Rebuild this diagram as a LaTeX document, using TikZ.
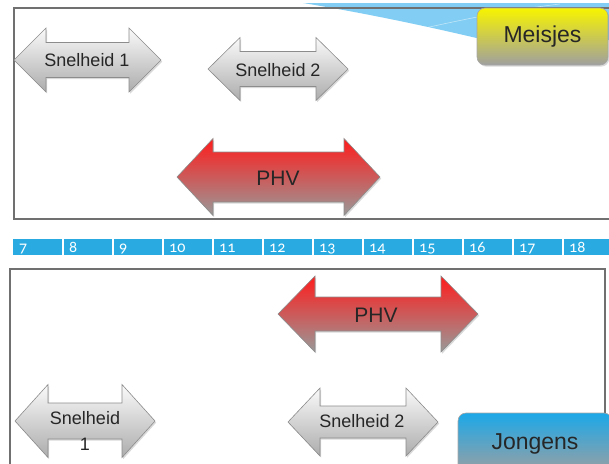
\documentclass[tikz,border=0pt]{standalone}
\usepackage{fontspec}
\setmainfont{Liberation Sans}
\newfontfamily\numfont[Numbers=OldStyle]{Carlito}
\usetikzlibrary{shadows}
\definecolor{barblue}{RGB}{41,171,226}
\definecolor{swooshblue}{RGB}{130,205,243}
\definecolor{frameline}{RGB}{112,112,112}
\definecolor{arrowline}{RGB}{140,140,140}
\definecolor{hotred}{RGB}{255,28,28}
\definecolor{boxyellow}{RGB}{248,244,0}
\definecolor{boxblue}{RGB}{28,168,232}
\newcommand{\dbarr}[7]{%
  \path[#7] (#1,#3) -- (#1+#4,#3-#5) -- (#1+#4,#3-#6) -- (#2-#4,#3-#6) -- (#2-#4,#3-#5)
    -- (#2,#3) -- (#2-#4,#3+#5) -- (#2-#4,#3+#6) -- (#1+#4,#3+#6) -- (#1+#4,#3+#5) -- cycle;}
\begin{document}
\begin{tikzpicture}[x=1pt,y=-1pt,
  frame/.style={draw=frameline, line width=1.1pt},
  shad/.style={drop shadow={shadow xshift=1.2pt, shadow yshift=-1.6pt, opacity=0.3}},
  grayarrow/.style={draw=arrowline, line width=0.6pt, top color=gray!4, bottom color=gray!65, shad},
  redarrow/.style={draw=arrowline, line width=0.6pt, top color=hotred, middle color=hotred!55!gray!90, bottom color=gray!80, shad},
  lbl/.style={font=\fontsize{18}{26}\selectfont, text=black!85, inner sep=0pt, align=center},
  phvlbl/.style={font=\fontsize{21}{24}\selectfont, text=black!85, inner sep=0pt},
  num/.style={font=\numfont\fontsize{16}{18}\selectfont, text=white, anchor=base west, inner sep=0pt},
  sexbox/.style={rounded corners=8pt, draw=gray!70, line width=0.6pt, inner sep=0pt,
    font=\fontsize{23}{26}\selectfont, text=black!85, shad}]
\useasboundingbox (0,0) rectangle (609,463);
\clip (0,0) rectangle (609,463);
% swoosh
\fill[swooshblue] (303,3) .. controls (370,14) and (430,27) .. (485,40) -- (609,40) -- (609,3) -- cycle;
\draw[white, opacity=0.5, line width=0.6pt] (425,28) .. controls (470,18) and (510,10) .. (560,4);
% frames
\draw[frame] (14,8) rectangle (620,219);
\draw[frame] (10,269) rectangle (605,480);
% age bar
\fill[barblue] (13,239) rectangle (612,255);
\foreach \i in {1,...,11} { \draw[white, line width=1.2pt] (13+50*\i,239) -- (13+50*\i,255); }
\foreach \n [count=\i from 0] in {7,8,9,10,11,12,13,14,15,16,17,18} {
  \node[num] (age\n) at (19+50*\i,252.5) {\n};
}
% top arrows
\dbarr{14}{161}{60}{32}{32}{17.5}{grayarrow}
\node[lbl] (snel1top) at (87,60) {Snelheid 1};
\dbarr{208}{348}{69}{32}{31.5}{17.5}{grayarrow}
\node[lbl] (snel2top) at (278,70) {Snelheid 2};
\dbarr{177}{380}{177}{36}{38.5}{25}{redarrow}
\node[phvlbl] (phvtop) at (278,178) {PHV};
% bottom arrows
\dbarr{278}{478}{314}{37}{38}{17}{redarrow}
\node[phvlbl] (phvbot) at (376,315) {PHV};
\dbarr{15}{155}{421}{33}{36.5}{18}{grayarrow}
\node[lbl] (snel1bot) at (85,431) {Snelheid\\1};
\dbarr{288}{438}{422}{32}{34}{16}{grayarrow}
\node[lbl] (snel2bot) at (362,421) {Snelheid 2};
% boxes
\node[sexbox, minimum width=131pt, minimum height=57pt, top color=boxyellow, middle color=boxyellow!80!gray, bottom color=gray!75] (meisjes) at (542.5,36.5) {Meisjes};
\node[sexbox, minimum width=154pt, minimum height=62pt, top color=boxblue, middle color=boxblue!45!gray!60, bottom color=gray!75] (jongens) at (535,444) {Jongens};
\end{tikzpicture}
\end{document}
